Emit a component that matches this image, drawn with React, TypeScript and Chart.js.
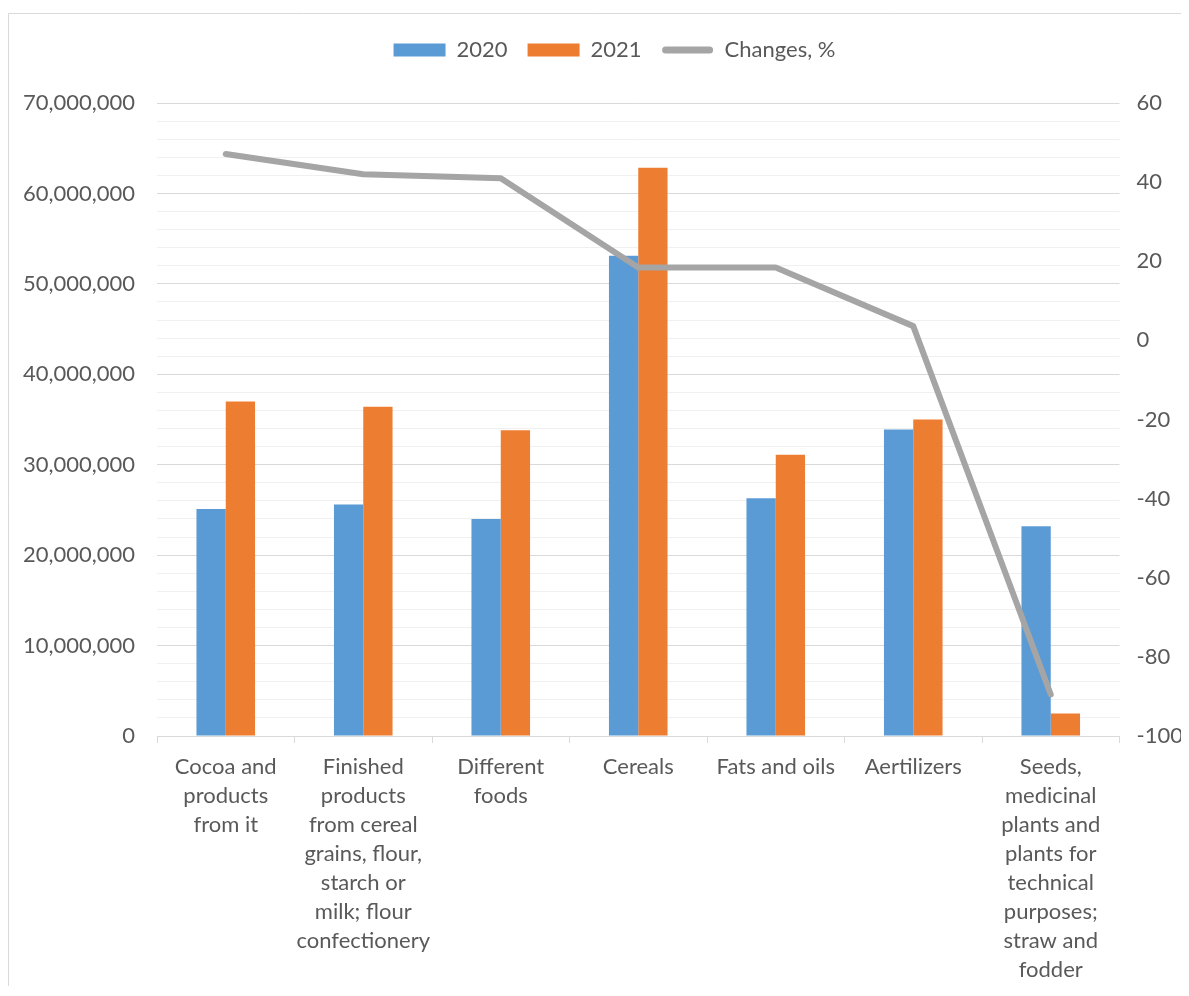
import React, { useEffect, useRef } from "react";
import { Chart, registerables } from "chart.js";

Chart.register(...registerables);

const categories: string[][] = [
  ["Cocoa and", "products", "from it"],
  ["Finished", "products", "from cereal", "grains, flour,", "starch or", "milk; flour", "confectionery"],
  ["Different", "foods"],
  ["Cereals"],
  ["Fats and oils"],
  ["Aertilizers"],
  ["Seeds,", "medicinal", "plants and", "plants for", "technical", "purposes;", "straw and", "fodder"],
];

const values2020: number[] = [25100000, 25600000, 24000000, 53100000, 26300000, 33900000, 23200000];
const values2021: number[] = [37000000, 36400000, 33800000, 62850000, 31100000, 35000000, 2500000];
const changesPct: number[] = [47.1, 42.0, 41.0, 18.4, 18.4, 3.6, -89.5];

const LEFT_MIN = 0;
const LEFT_MAX = 70000000;
const LEFT_MINOR_STEP = 2000000;
const LEFT_MAJOR_STEP = 10000000;
const RIGHT_MIN = -100;
const RIGHT_MAX = 60;
const RIGHT_STEP = 20;

const FONT = "Lato";
const TEXT = "#595959";
const BLUE = "#5B9BD5";
const ORANGE = "#ED7D31";
const GRAY = "#A5A5A5";

const legendTweaks = {
  id: "legendTweaks",
  afterInit(chart: any) {
    const lg = chart.legend;
    if (lg) {
      const orig = lg.fit;
      lg.fit = function () {
        orig.call(this);
        this.height = 95;
      };
    }
  },
  afterLayout(chart: any) {
    const lg = chart.legend;
    if (!lg) return;
    lg.left += 16;
    lg.right += 16;
    lg.top += 11;
    lg.bottom += 11;
  },
  beforeDraw(chart: any) {
    const ctx = chart.ctx;
    ctx.save();
    ctx.strokeStyle = "#d9d9d9";
    ctx.lineWidth = 1;
    ctx.beginPath();
    ctx.moveTo(0.5, chart.height);
    ctx.lineTo(0.5, 5.5);
    ctx.lineTo(chart.width, 5.5);
    ctx.stroke();
    ctx.restore();
  },
  afterDraw(chart: any) {
    const lg = chart.legend;
    if (!lg || !lg.legendHitBoxes || !lg.legendItems) return;
    const idx = lg.legendItems.findIndex((it: any) => it.datasetIndex === 2);
    const hb = lg.legendHitBoxes[idx];
    if (!hb) return;
    const ctx = chart.ctx;
    const y = hb.top + hb.height / 2;
    ctx.save();
    ctx.strokeStyle = GRAY;
    ctx.lineWidth = 7;
    ctx.lineCap = "round";
    ctx.beginPath();
    ctx.moveTo(hb.left + 4, y);
    ctx.lineTo(hb.left + 48, y);
    ctx.stroke();
    ctx.restore();
  },
};

export default function App() {
  const canvasRef = useRef<HTMLCanvasElement | null>(null);

  useEffect(() => {
    if (!canvasRef.current) return;
    const chart = new Chart(canvasRef.current, {
      type: "bar",
      data: {
        labels: categories,
        datasets: [
          {
            type: "bar",
            label: "2020",
            data: values2020,
            backgroundColor: BLUE,
            yAxisID: "y",
            order: 1,
            categoryPercentage: 0.426,
            barPercentage: 1.0,
          },
          {
            type: "bar",
            label: "2021",
            data: values2021,
            backgroundColor: ORANGE,
            yAxisID: "y",
            order: 1,
            categoryPercentage: 0.426,
            barPercentage: 1.0,
          },
          {
            type: "line",
            label: "Changes, %",
            data: changesPct,
            borderColor: GRAY,
            backgroundColor: GRAY,
            borderWidth: 6,
            pointRadius: 0,
            pointHoverRadius: 0,
            tension: 0,
            borderCapStyle: "round",
            borderJoinStyle: "round",
            yAxisID: "y1",
            order: 0,
          } as any,
        ],
      },
      options: {
        animation: false,
        responsive: true,
        maintainAspectRatio: false,
        layout: { padding: { top: 0, left: 0, right: 0, bottom: 0 } },
        plugins: {
          tooltip: { enabled: false },
          legend: {
            display: true,
            position: "top",
            labels: {
              color: TEXT,
              font: { family: FONT, size: 22 },
              boxWidth: 52,
              boxHeight: 13,
              padding: 20,
              generateLabels: (ch: any) => {
                const items = Chart.defaults.plugins.legend.labels.generateLabels(ch);
                items.forEach((it: any) => {
                  it.lineWidth = 0;
                  if (it.datasetIndex === 2) {
                    it.fillStyle = "rgba(0,0,0,0)";
                    it.strokeStyle = "rgba(0,0,0,0)";
                  }
                });
                return items.sort((a: any, b: any) => a.datasetIndex - b.datasetIndex);
              },
            },
          },
        },
        scales: {
          x: {
            type: "category",
            offset: true,
            afterFit: (s: any) => {
              s.height = 250;
            },
            grid: {
              offset: true,
              drawOnChartArea: false,
              drawTicks: true,
              tickLength: 7,
              color: "#d9d9d9",
            },
            border: { display: true, color: "#d9d9d9" },
            ticks: {
              color: TEXT,
              font: { family: FONT, size: 22, lineHeight: "29px" } as any,
              padding: 9,
              maxRotation: 0,
              minRotation: 0,
              autoSkip: false,
            },
          },
          y: {
            type: "linear",
            position: "left",
            min: LEFT_MIN,
            max: LEFT_MAX,
            afterFit: (s: any) => {
              s.width = 149;
            },
            grid: {
              drawTicks: false,
              color: (ctx: any) =>
                ctx.tick && ctx.tick.value % LEFT_MAJOR_STEP === 0 ? "#d9d9d9" : "#f0f0f0",
              lineWidth: 1,
            },
            border: { display: false },
            ticks: {
              stepSize: LEFT_MINOR_STEP,
              maxTicksLimit: 100,
              autoSkip: false,
              padding: 22,
              color: TEXT,
              font: { family: FONT, size: 22 },
              callback: (v: any) =>
                Number(v) % LEFT_MAJOR_STEP === 0 ? Number(v).toLocaleString("en-US") : "",
            },
          },
          y1: {
            type: "linear",
            position: "right",
            min: RIGHT_MIN,
            max: RIGHT_MAX,
            afterFit: (s: any) => {
              s.width = 69.5;
            },
            grid: { drawOnChartArea: false, drawTicks: false },
            border: { display: false },
            ticks: {
              stepSize: RIGHT_STEP,
              autoSkip: false,
              padding: 17,
              color: TEXT,
              font: { family: FONT, size: 22 },
            },
          },
        },
      },
      plugins: [legendTweaks],
    });
    return () => chart.destroy();
  }, []);

  return (
    <div style={{ position: "relative", width: 1181, height: 978 }}>
      <canvas ref={canvasRef} />
    </div>
  );
}
